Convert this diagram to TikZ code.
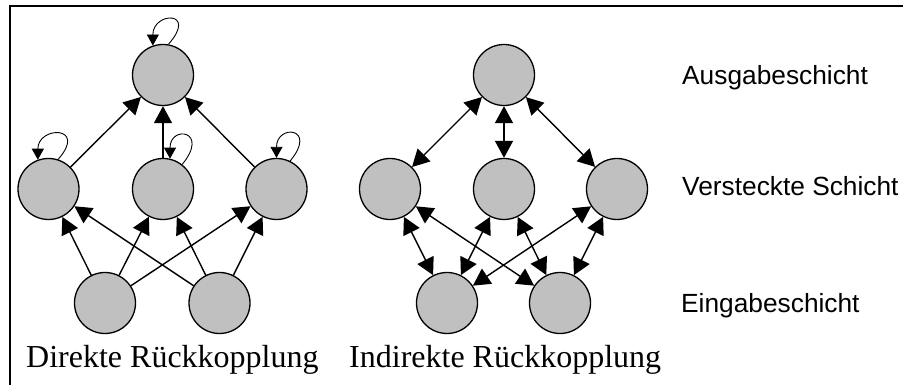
\documentclass[tikz,border=0pt]{standalone}
\usepackage{fontspec}
\setmainfont{Liberation Serif}
\newfontfamily\sansf{Liberation Sans}
\usetikzlibrary{arrows.meta}
\definecolor{nfill}{RGB}{192,192,192}
\begin{document}
\begin{tikzpicture}[x=1pt,y=1pt,
  neuron/.style={circle, draw, line width=1.3pt, fill=nfill, minimum size=61pt, inner sep=0pt},
  arr/.style={-{Triangle[length=17pt,width=18pt]}, line width=1.4pt},
  darr/.style={{Triangle[length=17pt,width=18pt]}-{Triangle[length=17pt,width=18pt]}, line width=1.4pt},
  loopy/.style={-{Triangle[length=11pt,width=12pt]}, line width=0.9pt},
  serlab/.style={anchor=base west, inner sep=0pt, font=\fontsize{32}{38}\selectfont},
  sanlab/.style={anchor=base west, inner sep=0pt, font=\sansf\fontsize{26.3}{31}\selectfont}]
\useasboundingbox (0,0) rectangle (903,385);
\fill[white] (0,0) rectangle (903,385);
\draw[line width=2pt] (10,-5) -- (10,379) -- (910,379);

% left network
\node[neuron] (A) at (163,310) {};
\node[neuron] (H1) at (48.5,196) {};
\node[neuron] (H2) at (163,196) {};
\node[neuron] (H3) at (276.5,196) {};
\node[neuron] (I1) at (105,82) {};
\node[neuron] (I2) at (219.5,82) {};

% right network
\node[neuron] (B) at (504,310) {};
\node[neuron] (K1) at (390,196) {};
\node[neuron] (K2) at (504,196) {};
\node[neuron] (K3) at (617,196) {};
\node[neuron] (J1) at (447,82) {};
\node[neuron] (J2) at (560,82) {};

% left connectors
\draw[arr] (H1) -- (A);
\draw[arr] (H2) -- (A);
\draw[arr] (H3) -- (A);
\draw[arr] (I1) -- (H1);
\draw[arr] (I1) -- (H2);
\draw[arr] (I1) -- (H3);
\draw[arr] (I2) -- (H1);
\draw[arr] (I2) -- (H2);
\draw[arr] (I2) -- (H3);

% self loops
\draw[loopy] (A.80) .. controls +(30,34) and +(0,34) .. (A.109);
\draw[loopy] (H1.72) .. controls +(30,34) and +(0,34) .. (H1.110);
\draw[loopy] (H2.52) .. controls +(28,34) and +(0,34) .. (H2.77);
\draw[loopy] (H3.64) .. controls +(28,34) and +(0,34) .. (H3.90);

% right connectors
\draw[darr] (K1) -- (B);
\draw[darr] (K2) -- (B);
\draw[darr] (K3) -- (B);
\draw[darr] (J1) -- (K1);
\draw[darr] (J1) -- (K2);
\draw[darr] (J1) -- (K3);
\draw[darr] (J2) -- (K1);
\draw[darr] (J2) -- (K2);
\draw[darr] (J2) -- (K3);

% labels
\node[serlab] (L1) at (26,17) {Direkte Rückkopplung};
\node[serlab] (L2) at (349,17) {Indirekte Rückkopplung};
\node[sanlab] (R1) at (682,300) {Ausgabeschicht};
\node[sanlab] (R2) at (682,189) {Versteckte Schicht};
\node[sanlab] (R3) at (681,72) {Eingabeschicht};
\end{tikzpicture}
\end{document}
